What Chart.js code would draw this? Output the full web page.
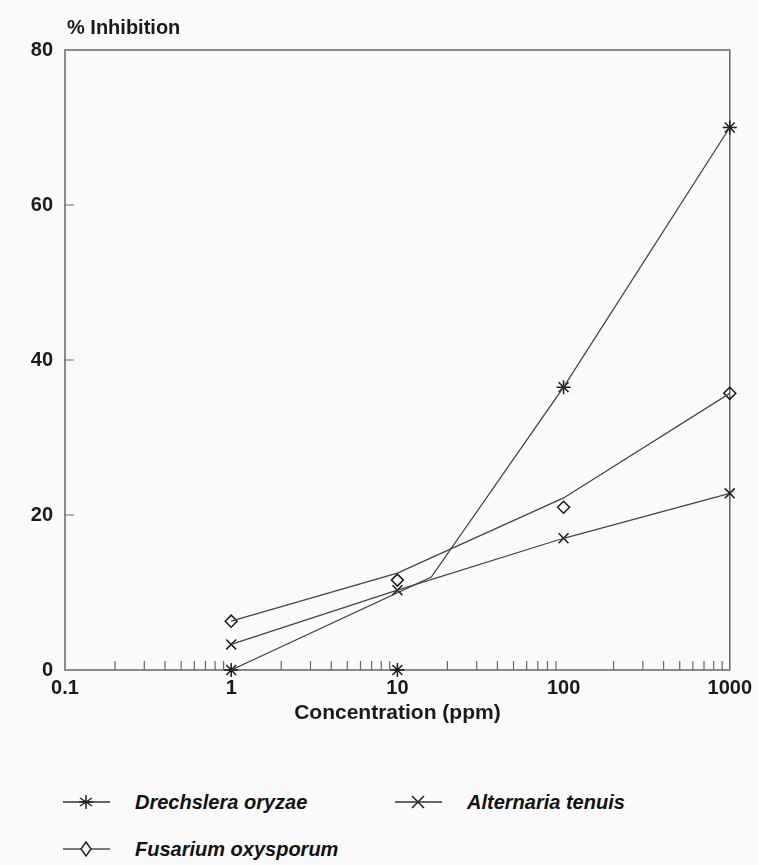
<!DOCTYPE html>
<html>
<head>
<meta charset="utf-8">
<script src="https://cdn.jsdelivr.net/npm/chart.js@4.4.1/dist/chart.umd.min.js"></script>
<style>
  body { margin: 0; background: #fafafa; }
  #wrap { position: relative; width: 758px; height: 865px; }
  #c { position: absolute; left: 0; top: 0; }
  .sym { position: absolute; }
  .txt { position: absolute; font: italic bold 20px "Liberation Sans", Arial, sans-serif; color: #111; line-height: 24px; }
</style>
</head>
<body>
<div id="wrap">
  <canvas id="c" width="758" height="740"></canvas>

  <svg class="sym" style="left:60px;top:790px" width="54" height="24">
    <line x1="3" y1="12" x2="50" y2="12" stroke="#333" stroke-width="1.3"/>
    <path d="M26 5 V19 M20 8 L32 16 M20 16 L32 8 M19 12 H33" stroke="#222" stroke-width="1.5"/>
  </svg>
  <span class="txt" style="left:135px;top:790px">Drechslera oryzae</span>

  <svg class="sym" style="left:392px;top:790px" width="54" height="24">
    <line x1="3" y1="12" x2="50" y2="12" stroke="#333" stroke-width="1.3"/>
    <path d="M20 6 L32 18 M20 18 L32 6" stroke="#222" stroke-width="1.5"/>
  </svg>
  <span class="txt" style="left:467px;top:790px">Alternaria tenuis</span>

  <svg class="sym" style="left:60px;top:837px" width="54" height="24">
    <line x1="3" y1="12" x2="21" y2="12" stroke="#333" stroke-width="1.3"/>
    <line x1="31" y1="12" x2="50" y2="12" stroke="#333" stroke-width="1.3"/>
    <path d="M26 5 L31 12 L26 19 L21 12 Z" fill="none" stroke="#222" stroke-width="1.5"/>
  </svg>
  <span class="txt" style="left:135px;top:837px">Fusarium oxysporum</span>
</div>

<script>
// concentration (ppm) of the measured points
const concentrations = [1, 10, 100, 1000];
// % inhibition, measured points
const drechsleraPts = [0, 0, 36.5, 70];
const alternariaPts = [3.3, 10.3, 17.0, 22.8];
const fusariumPts = [6.3, 11.6, 21.0, 35.7];
// fitted curves as drawn on the figure
const drechsleraFitX = [1, 16, 100, 1000];
const drechsleraFit = [0, 12.0, 36.5, 70];
const alternariaFitX = [1, 10, 100, 1000];
const alternariaFit = [3.3, 10.3, 17.0, 22.8];
const fusariumFitX = [1, 10, 100, 1000];
const fusariumFit = [6.3, 12.5, 22.2, 35.7];
// axes
const xTicks = [0.1, 1, 10, 100, 1000];
const yTicks = [0, 20, 40, 60, 80];

const minorTicks = [];
[0.1, 1, 10, 100].forEach(d => { for (let k = 2; k <= 9; k++) minorTicks.push(d * k); });

const pairs = (xs, ys) => xs.map((v, i) => ({ x: v, y: ys[i] }));
const ink = '#1a1a1a';
const lineCol = '#444';
const fontFam = '"Liberation Sans", Arial, sans-serif';

// frame, inward ticks and the y title
const frame = {
  id: 'frame',
  beforeDatasetsDraw(chart) {
    const { ctx, chartArea: a, scales: { x, y } } = chart;
    ctx.save();
    ctx.strokeStyle = '#666';
    ctx.lineWidth = 1.5;
    ctx.strokeRect(a.left, a.top, a.right - a.left, a.bottom - a.top);
    ctx.beginPath();
    ctx.lineWidth = 1.2;
    minorTicks.forEach(v => {
      const px = x.getPixelForValue(v);
      ctx.moveTo(px, a.bottom);
      ctx.lineTo(px, a.bottom - 9);
    });
    yTicks.slice(1, -1).forEach(v => {
      const py = y.getPixelForValue(v);
      ctx.moveTo(a.left, py);
      ctx.lineTo(a.left + 9, py);
    });
    ctx.stroke();
    ctx.fillStyle = ink;
    ctx.font = 'bold 20px ' + fontFam;
    ctx.textBaseline = 'middle';
    ctx.fillText('% Inhibition', a.left + 2, a.top - 22);
    ctx.restore();
  }
};

new Chart(document.getElementById('c'), {
  type: 'scatter',
  data: {
    datasets: [
      { label: 'Drechslera oryzae fit', data: pairs(drechsleraFitX, drechsleraFit), showLine: true, pointRadius: 0, borderColor: lineCol, borderWidth: 1.3 },
      { label: 'Alternaria tenuis fit', data: pairs(alternariaFitX, alternariaFit), showLine: true, pointRadius: 0, borderColor: lineCol, borderWidth: 1.3 },
      { label: 'Fusarium oxysporum fit', data: pairs(fusariumFitX, fusariumFit), showLine: true, pointRadius: 0, borderColor: lineCol, borderWidth: 1.3 },
      { label: 'Drechslera oryzae', data: pairs(concentrations, drechsleraPts), pointStyle: 'star', pointRadius: 7, borderColor: ink, borderWidth: 1.5, backgroundColor: 'transparent', clip: false },
      { label: 'Alternaria tenuis', data: pairs(concentrations, alternariaPts), pointStyle: 'crossRot', pointRadius: 7, borderColor: ink, borderWidth: 1.5, backgroundColor: 'transparent', clip: false },
      { label: 'Fusarium oxysporum', data: pairs(concentrations, fusariumPts), pointStyle: 'rectRot', pointRadius: 6, borderColor: ink, borderWidth: 1.5, backgroundColor: 'transparent', clip: false }
    ]
  },
  options: {
    responsive: false,
    animation: false,
    layout: { padding: { top: 50, right: 27, left: 0, bottom: 0 } },
    plugins: { legend: { display: false }, tooltip: { enabled: false } },
    scales: {
      x: {
        type: 'logarithmic',
        min: 0.1,
        max: 1000,
        afterBuildTicks: s => { s.ticks = xTicks.map(v => ({ value: v })); },
        afterFit: s => { s.height = 70; },
        grid: { display: false, drawTicks: false },
        border: { display: false },
        ticks: { callback: v => String(v), padding: 6, maxRotation: 0, autoSkip: false, color: ink, font: { family: fontFam, size: 20, weight: 'bold' } },
        title: { display: true, text: 'Concentration (ppm)', color: ink, font: { family: fontFam, size: 21, weight: 'bold' }, padding: { top: 6, bottom: 14 } }
      },
      y: {
        min: 0,
        max: 80,
        afterBuildTicks: s => { s.ticks = yTicks.map(v => ({ value: v })); },
        afterFit: s => { s.width = 65; },
        grid: { display: false, drawTicks: false },
        border: { display: false },
        ticks: { padding: 12, color: ink, font: { family: fontFam, size: 20, weight: 'bold' } }
      }
    }
  },
  plugins: [frame]
});
</script>
</body>
</html>
